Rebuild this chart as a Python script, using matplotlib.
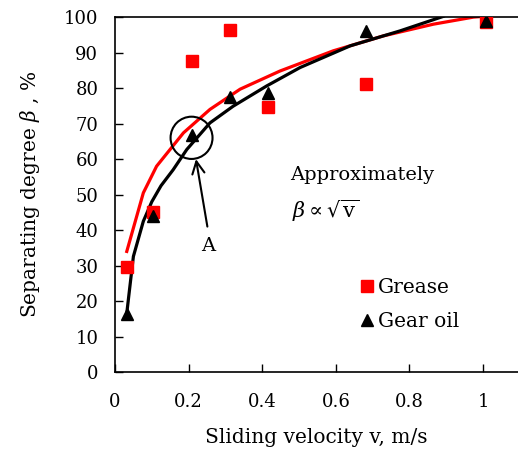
import numpy as np
import matplotlib
matplotlib.use("Agg")
import matplotlib.pyplot as plt
from matplotlib.patches import Ellipse

plt.rcParams['font.family'] = ['DejaVu Serif']
plt.rcParams['mathtext.fontset'] = 'dejavuserif'

# measured points
v_pts = [0.032, 0.104, 0.208, 0.3125, 0.417, 0.681, 1.007]
grease = [29.5, 45.1, 87.5, 96.3, 74.8, 81.1, 98.5]
gear_oil = [16.5, 44.0, 66.9, 77.5, 78.7, 96.0, 99.0]

# fitted curves
v_red = [0.032, 0.077, 0.113, 0.186, 0.258, 0.34, 0.448, 0.593, 0.729, 0.865, 0.974, 1.0]
red_fit = [34.0, 50.5, 58.0, 67.4, 74.0, 79.7, 84.8, 90.5, 94.7, 98.0, 100.0, 100.2]
v_blk = [0.032, 0.05, 0.077, 0.1, 0.125, 0.158, 0.195, 0.258, 0.321, 0.412, 0.503, 0.639, 0.774, 0.892]
blk_fit = [16.6, 32.6, 42.5, 48.0, 52.5, 57.0, 62.7, 70.2, 74.9, 80.6, 85.8, 91.9, 96.1, 100.2]

xticks = [0, 0.2, 0.4, 0.6, 0.8, 1]
xticklabels = ['0', '0.2', '0.4', '0.6', '0.8', '1']
yticks = list(range(0, 101, 10))

fig = plt.figure(figsize=(5.18, 4.5), dpi=100)
ax = fig.add_axes([0.222, 0.173, 0.778, 0.789])

ax.plot(v_red, red_fit, color='#ff0000', lw=2.3, zorder=2)
ax.plot(v_blk, blk_fit, color='black', lw=2.3, zorder=2)
ax.plot(v_pts, grease, 's', color='#ff0000', ms=8, ls='none', label='Grease', zorder=3)
ax.plot(v_pts, gear_oil, '^', color='black', ms=8.5, ls='none', label='Gear oil', zorder=3)

# circle + arrow marking point A
ax.add_patch(Ellipse((0.208, 66), 0.114, 11.9, fill=False, ec='black', lw=1.5, zorder=4))
ax.annotate('', xy=(0.22, 60), xytext=(0.251, 41),
            arrowprops=dict(arrowstyle='->', color='black', lw=1.5,
                            mutation_scale=22, shrinkA=0, shrinkB=0))
ax.text(0.254, 35.4, 'A', fontsize=14, ha='center', va='center')

ax.text(0.476, 55.6, 'Approximately', fontsize=14, ha='left', va='center')
ax.text(0.48, 45.3, r'$\beta \propto \sqrt{\mathrm{v}}$', fontsize=15, ha='left', va='center')

ax.set_xlim(0, 1.095)
ax.set_ylim(0, 100)
ax.set_xticks(xticks)
ax.set_xticklabels(xticklabels)
ax.set_yticks(yticks)
ax.tick_params(direction='in', length=6, width=1, labelsize=13)
ax.tick_params(axis='y', pad=12)
ax.tick_params(axis='x', pad=15)
ax.spines['right'].set_visible(False)
for s in ['left', 'bottom', 'top']:
    ax.spines[s].set_linewidth(1.2)

ax.set_xlabel('Sliding velocity v, m/s', fontsize=14.5, labelpad=12)
ax.set_ylabel(r'Separating degree $\beta$ , %', fontsize=14.5, labelpad=16)

ax.legend(loc='center', bbox_to_anchor=(0.728, 0.19), frameon=False,
          fontsize=14.5, handletextpad=0.05, labelspacing=0.75, handlelength=1.0)

fig.savefig('out.png', dpi=100)
